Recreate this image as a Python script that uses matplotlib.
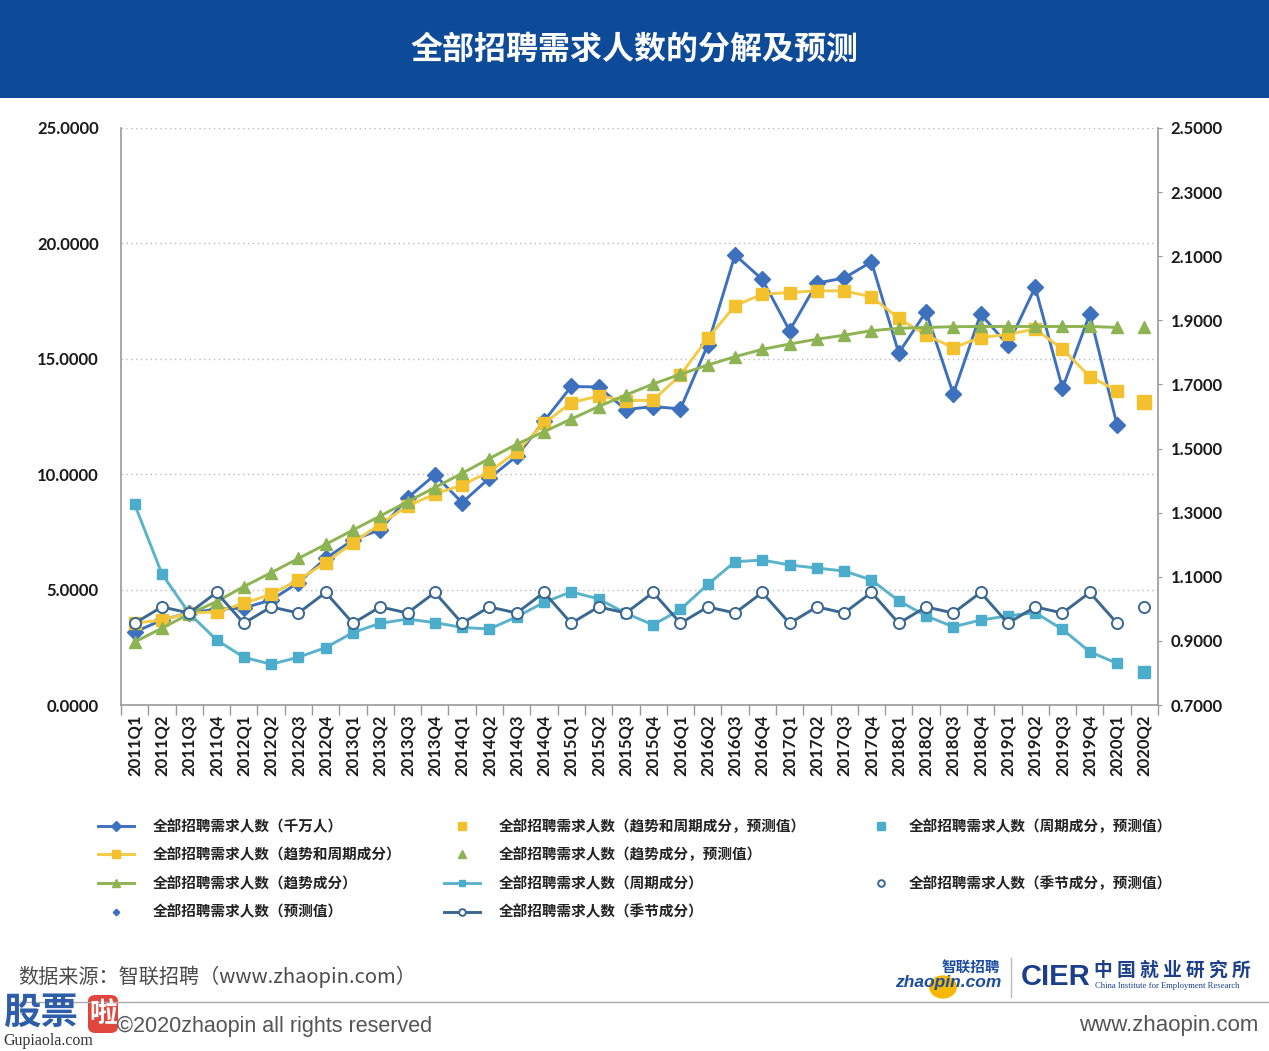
import matplotlib
matplotlib.use('Agg')
import matplotlib.pyplot as plt
from matplotlib.lines import Line2D
from matplotlib.patches import Rectangle, FancyBboxPatch, Circle
from matplotlib.font_manager import FontProperties
from matplotlib.ticker import FixedLocator, FormatStrFormatter

# ---------------- data ----------------
quarters = ['2011Q1', '2011Q2', '2011Q3', '2011Q4', '2012Q1', '2012Q2', '2012Q3', '2012Q4',
            '2013Q1', '2013Q2', '2013Q3', '2013Q4', '2014Q1', '2014Q2', '2014Q3', '2014Q4',
            '2015Q1', '2015Q2', '2015Q3', '2015Q4', '2016Q1', '2016Q2', '2016Q3', '2016Q4',
            '2017Q1', '2017Q2', '2017Q3', '2017Q4', '2018Q1', '2018Q2', '2018Q3', '2018Q4',
            '2019Q1', '2019Q2', '2019Q3', '2019Q4', '2020Q1', '2020Q2']

# left axis series (2011Q1 - 2020Q1)
total = [3.16, 3.68, 4.00, 4.15, 4.20, 4.55, 5.30, 6.35, 7.15, 7.60, 8.97, 9.97, 8.77,
         9.83, 10.78, 12.30, 13.80, 13.78, 12.80, 12.93, 12.83, 15.60, 19.50, 18.44,
         16.22, 18.28, 18.50, 19.20, 15.25, 17.04, 13.47, 16.94, 15.60, 18.10, 13.72,
         16.94, 12.13]
trend_cycle = [3.55, 3.68, 3.98, 4.04, 4.40, 4.80, 5.42, 6.17, 7.03, 7.84, 8.62, 9.14, 9.53,
               10.10, 10.98, 12.20, 13.10, 13.39, 13.19, 13.20, 14.30, 15.89, 17.30, 17.80,
               17.87, 17.95, 17.94, 17.69, 16.75, 16.03, 15.48, 15.92, 16.06, 16.29, 15.42,
               14.23, 13.62]
trend = [2.73, 3.33, 3.94, 4.48, 5.13, 5.73, 6.35, 6.96, 7.58, 8.19, 8.81, 9.42, 10.04,
         10.68, 11.30, 11.84, 12.39, 12.93, 13.43, 13.91, 14.33, 14.73, 15.09, 15.41,
         15.64, 15.85, 16.02, 16.22, 16.32, 16.36, 16.39, 16.40, 16.40, 16.40, 16.40,
         16.40, 16.36]
# right axis series (2011Q1 - 2020Q1)
cycle = [1.326, 1.109, 0.986, 0.903, 0.849, 0.827, 0.849, 0.879, 0.926, 0.955, 0.968,
         0.957, 0.942, 0.937, 0.975, 1.020, 1.053, 1.031, 0.986, 0.950, 0.998, 1.076,
         1.147, 1.152, 1.137, 1.127, 1.118, 1.090, 1.025, 0.978, 0.944, 0.965, 0.978,
         0.988, 0.936, 0.866, 0.830]
seasonal = [0.955, 1.006, 0.987, 1.051, 0.955, 1.006, 0.987, 1.051, 0.955, 1.006, 0.987,
            1.051, 0.955, 1.006, 0.987, 1.051, 0.955, 1.006, 0.987, 1.051, 0.955, 1.006,
            0.987, 1.051, 0.955, 1.006, 0.987, 1.051, 0.955, 1.006, 0.987, 1.051, 0.955,
            1.006, 0.987, 1.051, 0.955]
# forecasts (2020Q2)
total_fc = [13.20]
trend_cycle_fc = [13.11]
trend_fc = [16.36]
cycle_fc = [0.802]
seasonal_fc = [1.006]

left_ticks = [0, 5, 10, 15, 20, 25]
right_ticks = [0.7, 0.9, 1.1, 1.3, 1.5, 1.7, 1.9, 2.1, 2.3, 2.5]

labels = ['全部招聘需求人数（千万人）', '全部招聘需求人数（趋势和周期成分）',
          '全部招聘需求人数（趋势成分）', '全部招聘需求人数（预测值）',
          '全部招聘需求人数（趋势和周期成分，预测值）', '全部招聘需求人数（趋势成分，预测值）',
          '全部招聘需求人数（周期成分）', '全部招聘需求人数（季节成分）',
          '全部招聘需求人数（周期成分，预测值）', '全部招聘需求人数（季节成分，预测值）']

# ---------------- style ----------------
C_BLUE = '#3D71BE'
C_YEL = '#F3C12E'
C_YEL_L = '#F4CB47'
C_GRN = '#8DB352'
C_CYC = '#4BADCB'
C_CYC_L = '#5AB2CB'
C_SEA = '#3A6891'
CJK = ['Noto Sans CJK SC', 'DejaVu Sans']
TICKF = ['Lato', 'DejaVu Sans']
LAT = ['Liberation Sans', 'DejaVu Sans']

W, H = 1269, 1051
fig = plt.figure(figsize=(W / 100, H / 100), dpi=100)
fig.patch.set_facecolor('white')


def fx(x):
    return x / W


def fy(y):
    return 1 - y / H


# header band
fig.patches.append(Rectangle((0, fy(98)), 1, 98 / H, transform=fig.transFigure,
                             facecolor='#0D4A98', edgecolor='none', zorder=0))
fig.text(0.5, fy(50), '全部招聘需求人数的分解及预测', ha='center', va='center',
         color='white', fontsize=23, fontweight='bold', family=CJK)

ax = fig.add_axes([fx(121), fy(705), (1158 - 121) / W, (705 - 128) / H])
ax2 = ax.twinx()

n = len(total)
xs = list(range(n))
xf = [n]

l_total, = ax.plot(xs, total, color=C_BLUE, lw=2.1, marker='D', ms=8.5,
                   mfc=C_BLUE, mec=C_BLUE, zorder=3)
l_tc, = ax.plot(xs, trend_cycle, color=C_YEL_L, lw=2.1, marker='s', ms=9,
                mfc=C_YEL, mec=C_YEL, zorder=4)
l_tr, = ax.plot(xs, trend, color=C_GRN, lw=2.1, marker='^', ms=8.5,
                mfc=C_GRN, mec=C_GRN, zorder=5)
l_total_fc, = ax.plot(xf, total_fc, ls='none', marker='D', ms=5.5,
                      mfc=C_BLUE, mec=C_BLUE, zorder=3)
l_tc_fc, = ax.plot(xf, trend_cycle_fc, ls='none', marker='s', ms=10,
                   mfc=C_YEL, mec=C_YEL, zorder=4)
l_tr_fc, = ax.plot(xf, trend_fc, ls='none', marker='^', ms=8.5,
                   mfc=C_GRN, mec=C_GRN, zorder=5)

l_cyc, = ax2.plot(xs, cycle, color=C_CYC_L, lw=2.1, marker='s', ms=7.5,
                  mfc=C_CYC, mec=C_CYC, zorder=3)
l_sea, = ax2.plot(xs, seasonal, color=C_SEA, lw=2.1, marker='o', ms=8,
                  mfc='white', mec=C_SEA, mew=1.4, zorder=4)
l_cyc_fc, = ax2.plot(xf, cycle_fc, ls='none', marker='s', ms=9,
                     mfc=C_CYC, mec=C_CYC, zorder=3)
l_sea_fc, = ax2.plot(xf, seasonal_fc, ls='none', marker='o', ms=8,
                     mfc='white', mec=C_SEA, mew=1.4, zorder=4)

# axes
ax.set_xlim(-0.5, len(quarters) - 0.5)
ax.set_ylim(left_ticks[0], left_ticks[-1])
ax2.set_ylim(right_ticks[0], right_ticks[-1])

tickfp = FontProperties(family=TICKF, weight='bold', size=12)
ax.set_xticks(range(len(quarters)))
ax.set_xticklabels(quarters, rotation=90, fontproperties=tickfp, color='#1A1A1A')
ax.xaxis.set_minor_locator(FixedLocator([i - 0.5 for i in range(len(quarters) + 1)]))
ax.tick_params(axis='x', which='major', length=0, pad=7)
ax.tick_params(axis='x', which='minor', length=7, color='#999999', width=1)

ax.set_yticks(left_ticks)
ax.yaxis.set_major_formatter(FormatStrFormatter('%.4f'))
for t in ax.get_yticklabels():
    t.set_fontproperties(tickfp)
    t.set_color('#1A1A1A')
ax.tick_params(axis='y', length=0, pad=16)

ax2.set_yticks(right_ticks)
ax2.yaxis.set_major_formatter(FormatStrFormatter('%.4f'))
for t in ax2.get_yticklabels():
    t.set_fontproperties(tickfp)
    t.set_color('#1A1A1A')
ax2.tick_params(axis='y', length=3, color='#999999', pad=6)

ax.yaxis.grid(True, linestyle=(0, (1, 2.5)), color='#BBBBBB', linewidth=1)
ax.set_axisbelow(True)
for s in ['top', 'right']:
    ax.spines[s].set_visible(False)
for s in ['left', 'bottom']:
    ax.spines[s].set_color('#999999')
    ax.spines[s].set_linewidth(1.2)
for s in ['top', 'left', 'bottom']:
    ax2.spines[s].set_visible(False)
ax2.spines['right'].set_color('#999999')
ax2.spines['right'].set_linewidth(1.2)

# legend (three columns)
legfp = FontProperties(family=CJK, weight='bold', size=10.5)
blank = Line2D([], [], ls='none', marker=None, alpha=0)
cols = [
    ([l_total, l_tc, l_tr, l_total_fc], labels[0:4], 98, 2.5),
    ([l_tc_fc, l_tr_fc, l_cyc, l_sea], labels[4:8], 444, 2.5),
    ([l_cyc_fc, blank, l_sea_fc, blank], [labels[8], ' ', labels[9], ' '], 872, 1.3),
]
for handles, labs, x0, hl in cols:
    leg = fig.legend(handles, labs, loc='upper left', bbox_to_anchor=(fx(x0), fy(818)),
                     bbox_transform=fig.transFigure, frameon=False, prop=legfp,
                     borderpad=0, borderaxespad=0, handlelength=hl, handletextpad=1.25,
                     labelspacing=0.86, markerscale=0.6)
    for t in leg.get_texts():
        t.set_color('#222222')

# footer
fig.text(fx(18), fy(977), '数据来源：智联招聘（www.zhaopin.com）', ha='left', va='center',
         fontsize=14.5, color='#4A4A4A', family=CJK)
fig.add_artist(Line2D([fx(20), fx(1269)], [fy(1002), fy(1002)], transform=fig.transFigure,
                      color='#AAAAAA', lw=1))
fig.text(fx(117), fy(1026), '©2020zhaopin all rights reserved', ha='left', va='center',
         fontsize=15.5, color='#555555', family=LAT)
fig.text(fx(1258), fy(1025), 'www.zhaopin.com', ha='right', va='center',
         fontsize=16, color='#555555', family=LAT)

# zhaopin logo
fig.patches.append(Circle((fx(943), fy(987)), 14 / W, transform=fig.transFigure,
                          facecolor='#F6B800', edgecolor='none', zorder=1))
fig.text(fx(895), fy(982), 'zhaopin.com', ha='left', va='center', fontsize=12.5,
         fontweight='bold', style='italic', color='#1C4DA1', family=LAT, zorder=2)
fig.text(fx(942), fy(967), '智联招聘', ha='left', va='center', fontsize=10.5,
         fontweight='bold', color='#1C4DA1', family=CJK, zorder=2)
fig.add_artist(Line2D([fx(1011), fx(1011)], [fy(958), fy(997)], transform=fig.transFigure,
                      color='#BBBBBB', lw=1))
# CIER logo
fig.text(fx(1021), fy(977), 'CIER', ha='left', va='center', fontsize=21, fontweight='bold',
         color='#1B3F8B', family=LAT)
fig.text(fx(1094), fy(970), '中 国 就 业 研 究 所', ha='left', va='center', fontsize=13.5,
         fontweight='bold', color='#1B3F8B', family=CJK)
fig.text(fx(1095), fy(986), 'China Institute for Employment Research', ha='left', va='center',
         fontsize=6.2, color='#1B3F8B', family=['Liberation Serif', 'DejaVu Serif'])

# watermark
fig.text(fx(3), fy(1012), '股票', ha='left', va='center', fontsize=27, fontweight='bold',
         color='#2E5DAA', family=CJK)
fig.patches.append(FancyBboxPatch((fx(88), fy(1033)), 30 / W, 38 / H,
                                  boxstyle='round,pad=0,rounding_size=0.006',
                                  transform=fig.transFigure, facecolor='#E0463C',
                                  edgecolor='none'))
fig.text(fx(103), fy(1014), '啦', ha='center', va='center', fontsize=20, fontweight='bold',
         color='white', family=CJK)
fig.text(fx(3), fy(1041), 'Gupiaola.com', ha='left', va='center', fontsize=11.5,
         color='#333333', family=['Liberation Serif', 'DejaVu Serif'])

fig.savefig('out.png', dpi=100, facecolor='white')
